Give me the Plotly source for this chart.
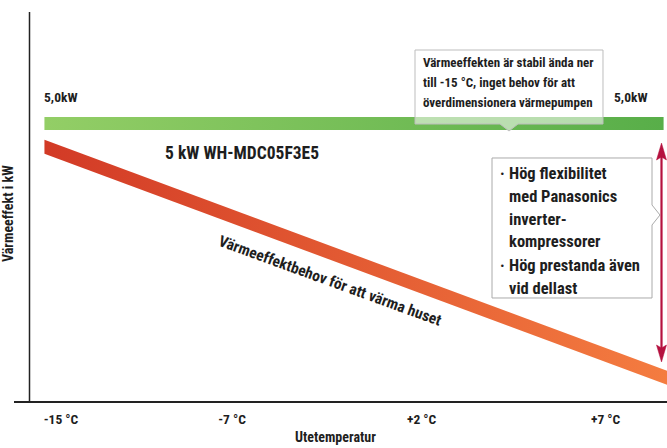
import plotly.graph_objects as go

# ---------------- data ----------------
tick_pos = [0.0, 0.93, 1.96, 2.96]
tick_labels = ["-15 °C", "-7 °C", "+2 °C", "+7 °C"]

capacity_x = [-0.09, 3.275]
capacity_kw = [5.0, 5.0]

demand_x = [-0.09, 3.2935]
demand_kw = [4.58, 0.42]

capacity_label = "5 kW WH-MDC05F3E5"
demand_label = "Värmeeffektbehov för att värma huset"
kw_label = "5,0kW"
callout1_lines = ["Värmeeffekten är stabil ända ner",
                  "till -15 °C, inget behov för att",
                  "överdimensionera värmepumpen"]
callout2_lines = [("·", "Hög flexibilitet"), ("", "med Panasonics"), ("", "inverter-"),
                  ("", "kompressorer"), ("·", "Hög prestanda även"), ("", "vid dellast")]
x_title = "Utetemperatur"
y_title = "Värmeeffekt i kW"

# ---------------- layout helpers ----------------
W, H = 667, 448
ML, MB = 14, 47
PW, PH = W - ML, H - MB
FONT = "Roboto Condensed, Liberation Sans Narrow, Roboto, sans-serif"
TXT = "#1E1E1E"


def px(x):
    return (x - ML) / PW


def py(y):
    return (PH - y) / PH


fig = go.Figure()


def band(xs, ys, half, c0, c1):
    bx = [xs[0], xs[1], xs[1], xs[0], xs[0]]
    by = [ys[0] + half, ys[1] + half, ys[1] - half, ys[0] - half, ys[0] + half]
    fig.add_trace(go.Scatter(
        x=bx, y=by, fill="toself", mode="lines", line=dict(width=0),
        fillgradient=dict(type="horizontal", colorscale=[[0, c0], [1, c1]]),
        hoverinfo="skip", showlegend=False))


band(capacity_x, capacity_kw, 0.117, "#93CE66", "#58AE49")
band(demand_x, demand_kw, 0.126, "#D23A26", "#F47C40")

shapes = []
# y axis line
shapes.append(dict(type="line", xref="paper", yref="paper", x0=px(29.5), x1=px(29.5),
                   y0=0, y1=py(12), line=dict(color="#222222", width=1.5)))


def path(points):
    s = "M " + " L ".join(f"{px(a):.5f},{py(b):.5f}" for a, b in points) + " Z"
    return s


# callout 1 (above green bar, pointer down)
shapes.append(dict(type="path", xref="paper", yref="paper",
                   path=path([(415, 50), (603, 50), (603, 124), (518, 124), (509, 131),
                              (500, 124), (415, 124)]),
                   fillcolor="rgba(255,255,255,0.55)", line=dict(color="#BDBDBD", width=1)))
# callout 2 (right box, notch to the right)
shapes.append(dict(type="path", xref="paper", yref="paper",
                   path=path([(492, 158), (652, 158), (652, 205), (660, 215), (652, 225),
                              (652, 298), (492, 298)]),
                   fillcolor="white", line=dict(color="#AAAAAA", width=1)))
# double arrow
AC = "#B5113F"
AX = 661.5
shapes.append(dict(type="line", xref="paper", yref="paper", x0=px(AX), x1=px(AX),
                   y0=py(156), y1=py(349), line=dict(color=AC, width=2.2)))
shapes.append(dict(type="path", xref="paper", yref="paper",
                   path=path([(AX, 143), (AX + 5, 160), (AX, 157), (AX - 5, 160)]),
                   fillcolor=AC, line=dict(color=AC, width=0.5)))
shapes.append(dict(type="path", xref="paper", yref="paper",
                   path=path([(AX, 362), (AX + 5, 345), (AX, 348), (AX - 5, 345)]),
                   fillcolor=AC, line=dict(color=AC, width=0.5)))

ann = []


def text(t, x, y, size, xanchor="left", angle=0):
    ann.append(dict(text=t, x=px(x), y=py(y), xref="paper", yref="paper",
                    xanchor=xanchor, yanchor="middle", showarrow=False, textangle=angle,
                    font=dict(family=FONT, size=size, color=TXT, weight=700)))


text(kw_label, 42, 97, 13.5)
text(kw_label, 612, 97, 13.5)
for i, line in enumerate(callout1_lines):
    text(line, 421, 63 + i * 19.5, 13)
text(capacity_label, 163, 153, 17.5)
text(demand_label, 330, 281, 15.5, xanchor="center", angle=20)
for i, (b, line) in enumerate(callout2_lines):
    yy = 173 + i * 23
    if b:
        text(b, 498, yy, 16.5)
    text(line, 507, yy, 16.5)
text(y_title, 8, 214, 14, xanchor="center", angle=-90)
text(x_title, 335, 437, 14, xanchor="center")

fig.update_layout(
    width=W, height=H, margin=dict(l=ML, r=0, t=0, b=MB),
    paper_bgcolor="white", plot_bgcolor="white",
    xaxis=dict(range=[-0.2554, 3.2935], tickvals=tick_pos, ticktext=tick_labels,
               showgrid=False, zeroline=False, showline=True, linecolor="#222222", linewidth=1.5,
               ticks="", ticklabelstandoff=5,
               tickfont=dict(family=FONT, size=13.5, color=TXT, weight=700)),
    yaxis=dict(range=[0, 7.225], showgrid=False, zeroline=False, showline=False,
               showticklabels=False, ticks=""),
    shapes=shapes, annotations=ann, showlegend=False,
)

fig.write_html("out.html")
